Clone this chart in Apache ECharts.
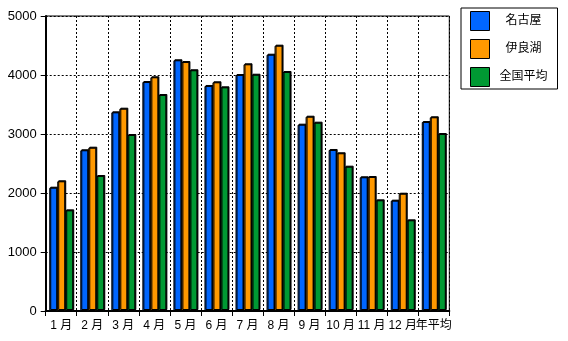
<!DOCTYPE html>
<html><head><meta charset="utf-8">
<script src="https://cdn.jsdelivr.net/npm/echarts@6/dist/echarts.min.js"></script>
<style>html,body{margin:0;padding:0;background:#fff}#c{width:568px;height:341px}</style>
</head><body><div id="c"></div>
<script>
var categories = ['1 月','2 月','3 月','4 月','5 月','6 月','7 月','8 月','9 月','10 月','11 月','12 月','年平均'];
var nagoya = [2090, 2724, 3367, 3881, 4249, 3814, 4000, 4344, 3158, 2729, 2266, 1870, 3203];
var iragomisaki = [2198, 2768, 3429, 3961, 4220, 3876, 4181, 4497, 3293, 2673, 2271, 1988, 3283];
var national = [1706, 2288, 2983, 3661, 4080, 3791, 4005, 4051, 3192, 2446, 1876, 1537, 3000];
var seriesNames = ['名古屋','伊良湖','全国平均'];
var yTicks = {min: 0, max: 5000, interval: 1000};

var colors = ['#0066ff', '#ff9900', '#009933'];
var font = '"Liberation Sans", "Noto Sans CJK JP", sans-serif';
function mk(name, data, color){
  return {
    name: name, type: 'bar', data: data, barWidth: 8, barGap: '0%',
    itemStyle: {color: color, borderColor: '#000', borderWidth: 1,
      shadowColor: '#000', shadowBlur: 0, shadowOffsetX: 1, shadowOffsetY: -1},
    emphasis: {disabled: true}, animation: false
  };
}
var chart = echarts.init(document.getElementById('c'), null, {renderer: 'canvas'});
chart.setOption({
  animation: false,
  backgroundColor: '#fff',
  grid: {left: 45.7, right: 118.7, top: 16, bottom: 30, show: true, borderColor: '#000', borderWidth: 1, backgroundColor: 'transparent'},
  legend: {
    orient: 'vertical', left: 461, top: 8, itemWidth: 19, itemHeight: 19, itemGap: 8,
    padding: [3, 10, 2, 9], borderColor: '#000', borderWidth: 1, backgroundColor: '#fff',
    icon: 'rect',
    itemStyle: {borderColor: '#000', borderWidth: 1, shadowBlur: 0, shadowOffsetX: 0, shadowOffsetY: 0},
    formatter: function(n){ return '{a|' + n + '}'; },
    textStyle: {rich: {a: {width: 58, align: 'center', fontSize: 12, fontFamily: font, color: '#000'}}},
    data: seriesNames
  },
  xAxis: {
    type: 'category', data: categories,
    axisLine: {lineStyle: {color: '#000', width: 2}},
    axisTick: {show: true, length: 5, lineStyle: {color: '#000'}},
    axisLabel: {color: '#000', fontSize: 12, fontFamily: font, margin: 9, interval: 0},
    splitLine: {show: true, interval: 0, lineStyle: {color: '#000', type: [2, 2], width: 1}}
  },
  yAxis: {
    type: 'value', min: yTicks.min, max: yTicks.max, interval: yTicks.interval,
    axisLine: {show: true, lineStyle: {color: '#000', width: 2}},
    axisTick: {show: true, length: 5, lineStyle: {color: '#000'}},
    axisLabel: {color: '#000', fontSize: 13, fontFamily: font, margin: 9, formatter: function(v){ return String(v); }},
    splitLine: {show: true, lineStyle: {color: '#000', type: [2, 2], width: 1}}
  },
  series: [mk(seriesNames[0], nagoya, colors[0]), mk(seriesNames[1], iragomisaki, colors[1]), mk(seriesNames[2], national, colors[2])]
});
</script></body></html>
